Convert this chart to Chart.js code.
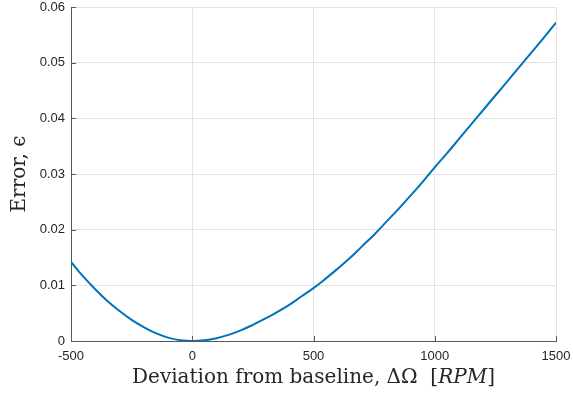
<!DOCTYPE html>
<html>
<head>
<meta charset="utf-8">
<script src="https://cdn.jsdelivr.net/npm/chart.js@4/dist/chart.umd.min.js"></script>
<style>
  html, body { margin: 0; background: #fff; }
</style>
</head>
<body>
<canvas id="errorChart" width="573" height="395"></canvas>
<script>
// deviation from baseline [RPM] and the error
const deviation = [-500, -450, -400, -350, -300, -250, -200, -150, -100, -50, 0,
  50, 100, 150, 200, 250, 300, 350, 400, 450, 500,
  550, 600, 650, 700, 750, 800, 850, 900, 950, 1000,
  1050, 1100, 1150, 1200, 1250, 1300, 1350, 1400, 1450, 1500]
const errorValues = [0.0142, 0.0116, 0.0093, 0.0072, 0.0054, 0.0038, 0.0025, 0.0014, 0.0006, 0.00015, 0.0000,
  0.00012, 0.0005, 0.0011, 0.0019, 0.0029, 0.0040, 0.0052, 0.0065, 0.0080, 0.0095,
  0.0112, 0.0130, 0.0149, 0.0170, 0.0191, 0.0214, 0.0237, 0.0261, 0.0286, 0.0312,
  0.0337, 0.0363, 0.0389, 0.0415, 0.0441, 0.0467, 0.0493, 0.0519, 0.0545, 0.0572]

const xTicks = [-500, 0, 500, 1000, 1500]
const yTicks = [0, 0.01, 0.02, 0.03, 0.04, 0.05, 0.06]

const axisColor = '#595959'
const serif = '"DejaVu Serif", serif'

// MATLAB draws tick marks inside the box
const inwardTicks = {
  id: 'inwardTicks',
  afterDatasetsDraw(chart) {
    const { ctx, chartArea, scales: { x, y } } = chart
    ctx.save()
    ctx.strokeStyle = axisColor
    ctx.lineWidth = 1
    ctx.beginPath()
    x.ticks.forEach(t => {
      const px = Math.round(x.getPixelForValue(t.value)) + 0.5
      ctx.moveTo(px, chartArea.bottom)
      ctx.lineTo(px, chartArea.bottom - 5)
    })
    y.ticks.forEach(t => {
      const py = Math.round(y.getPixelForValue(t.value)) + 0.5
      ctx.moveTo(chartArea.left, py)
      ctx.lineTo(chartArea.left + 5, py)
    })
    ctx.stroke()
    ctx.restore()
  }
}

// x label with the italic RPM unit
const xLabel = {
  id: 'xLabel',
  afterDraw(chart) {
    const { ctx, chartArea } = chart
    const parts = [
      { text: 'Deviation from baseline, \u0394\u03a9  [', font: '20px ' + serif },
      { text: 'RPM', font: 'italic 20px ' + serif },
      { text: ']', font: '20px ' + serif }
    ]
    ctx.save()
    ctx.fillStyle = '#262626'
    ctx.textBaseline = 'middle'
    let total = 0
    parts.forEach(p => { ctx.font = p.font; p.w = ctx.measureText(p.text).width; total += p.w })
    let x = (chartArea.left + chartArea.right) / 2 - total / 2
    const y = chartArea.bottom + 37
    parts.forEach(p => {
      ctx.font = p.font
      ctx.fillText(p.text, x, y)
      x += p.w
    })
    ctx.restore()
  }
}

const chart = new Chart(document.getElementById('errorChart'), {
  type: 'line',
  data: {
    datasets: [{
      data: deviation.map((d, i) => ({ x: d, y: errorValues[i] })),
      borderColor: '#0072BD',
      borderWidth: 2,
      pointRadius: 0,
      tension: 0.4,
      fill: false
    }]
  },
  options: {
    responsive: false,
    animation: false,
    layout: { padding: { top: 7, right: 17, left: 0, bottom: 0 } },
    plugins: { legend: { display: false }, tooltip: { enabled: false } },
    scales: {
      x: {
        type: 'linear',
        min: -500,
        max: 1500,
        afterBuildTicks: scale => { scale.ticks = xTicks.map(v => ({ value: v })) },
        afterFit: scale => {
          scale.height = 54
          scale.paddingLeft = 0
          scale.paddingRight = 0
        },
        grid: { color: '#e3e3e3', drawTicks: false },
        border: { color: axisColor, width: 1 },
        ticks: {
          color: '#262626',
          padding: 8,
          maxRotation: 0,
          font: { family: '"Liberation Sans", Arial, sans-serif', size: 13 },
          callback: v => String(v)
        }
      },
      y: {
        min: 0,
        max: 0.06,
        afterBuildTicks: scale => { scale.ticks = yTicks.map(v => ({ value: v })) },
        afterFit: scale => {
          scale.width = 71
          scale.paddingTop = 0
          scale.paddingBottom = 0
        },
        grid: { color: '#e3e3e3', drawTicks: false },
        border: { color: axisColor, width: 1 },
        ticks: {
          color: '#262626',
          padding: 6,
          font: { family: '"Liberation Sans", Arial, sans-serif', size: 13 },
          callback: v => v === 0 ? '0' : v.toFixed(2)
        },
        title: {
          display: true,
          text: 'Error, \u03f5',
          color: '#262626',
          padding: { top: 8, bottom: 0 },
          font: { family: serif, size: 20 }
        }
      }
    }
  },
  plugins: [inwardTicks, xLabel]
})
</script>
</body>
</html>
